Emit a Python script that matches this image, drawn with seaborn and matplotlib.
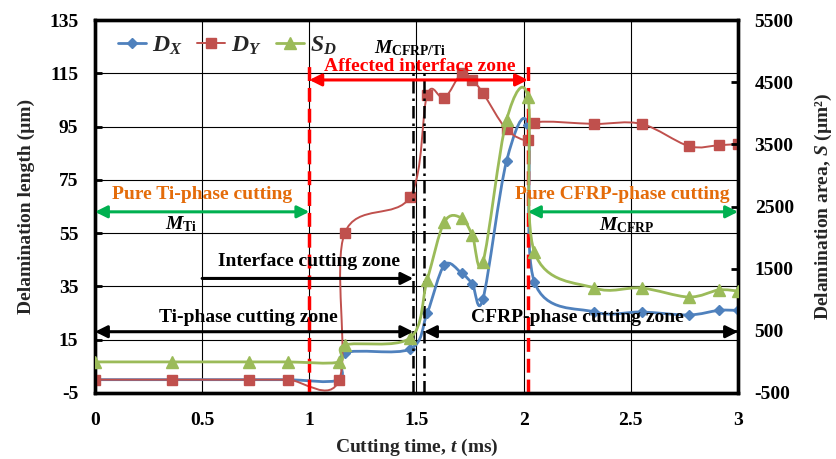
import numpy as np
import matplotlib
matplotlib.use('Agg')
import matplotlib.pyplot as plt
import seaborn as sns
from matplotlib.path import Path
from matplotlib.patches import PathPatch
from matplotlib.lines import Line2D

# ── Données ──────────────────────────────────────────────────────────
t_ms = [0, 0.36, 0.72, 0.90, 1.14, 1.165, 1.47, 1.55, 1.63, 1.71,
        1.76, 1.81, 1.92, 2.02, 2.05, 2.33, 2.55, 2.77, 2.91, 3.00]
d_x = [0, 0, 0, 0, 0, 10, 11.5, 25, 43, 40,
       36, 30.3, 82, 95.5, 36.7, 25.4, 25.4, 24.3, 26, 26]
d_y = [0, 0, 0, 0, 0, 55, 68.6, 107, 105.7, 115,
       112.5, 107.6, 94, 90, 96.5, 96, 96, 87.7, 88, 88.5]
s_d = [0, 0, 0, 0, 0, 272, 385, 1320, 2250, 2315,
       2040, 1607, 3890, 4260, 1768, 1189, 1189, 1044, 1157, 1140]

x_ticks = [0, 0.5, 1, 1.5, 2, 2.5, 3]
x_ticklabels = ['0', '0.5', '1', '1.5', '2', '2.5', '3']
left_ticks = [-5, 15, 35, 55, 75, 95, 115, 135]
right_ticks = [-500, 500, 1500, 2500, 3500, 4500, 5500]

# limites des zones
t_interface_start = 1.0
t_interface_end = 2.02
t_ti_end = 1.485
t_cfrp_start = 1.535

BLUE = '#4F81BD'
RED = '#C0504D'
GREEN = '#9BBB59'
ORANGE = '#E46C0A'
ARROW_GREEN = '#00B050'

sns.set_theme(style='white')
plt.rcParams['font.family'] = ['Liberation Serif', 'DejaVu Serif']
plt.rcParams['font.weight'] = 'bold'
plt.rcParams['axes.unicode_minus'] = False
plt.rcParams['mathtext.fontset'] = 'custom'
plt.rcParams['mathtext.rm'] = 'Liberation Serif:bold'
plt.rcParams['mathtext.bf'] = 'Liberation Serif:bold'
plt.rcParams['mathtext.it'] = 'Liberation Serif:italic:bold'
plt.rcParams['mathtext.bfit'] = 'Liberation Serif:italic:bold'


def smooth_path(x, y):
    """Courbe lissée type Excel (Bezier Catmull-Rom)."""
    pts = np.column_stack([x, y]).astype(float)
    n = len(pts)
    verts = [pts[0]]
    codes = [Path.MOVETO]
    for i in range(n - 1):
        p0 = pts[max(i - 1, 0)]
        p1, p2 = pts[i], pts[i + 1]
        p3 = pts[min(i + 2, n - 1)]
        verts += [p1 + (p2 - p0) / 6, p2 - (p3 - p1) / 6, p2]
        codes += [Path.CURVE4] * 3
    return Path(verts, codes)


fig = plt.figure(figsize=(8.36, 4.59), dpi=100)
ax = fig.add_axes([0.1136, 0.1438, 0.7692, 0.8126])
ax2 = ax.twinx()

# courbes D_X, D_Y (axe gauche), S_D (axe droit)
ax.add_patch(PathPatch(smooth_path(t_ms, d_x), fill=False, edgecolor=BLUE, lw=2.0, zorder=3))
ax.plot(t_ms, d_x, ls='none', marker='D', ms=5.5, color=BLUE, zorder=3)
ax.add_patch(PathPatch(smooth_path(t_ms, d_y), fill=False, edgecolor=RED, lw=1.4, zorder=4))
ax.plot(t_ms, d_y, ls='none', marker='s', ms=6.5, color=RED, zorder=4)
ax2.add_patch(PathPatch(smooth_path(t_ms, s_d), fill=False, edgecolor=GREEN, lw=2.0, zorder=3))
ax2.plot(t_ms, s_d, ls='none', marker='^', ms=8, color=GREEN, zorder=3)

# axes
ax.set_xlim(0, 3)
ax.set_ylim(-5, 135)
ax2.set_ylim(-500, 5500)
ax.set_xticks(x_ticks)
ax.set_xticklabels(x_ticklabels)
ax.set_yticks(left_ticks)
ax2.set_yticks(right_ticks)
ax.grid(True, color='black', lw=0.8)
ax.set_axisbelow(True)
for a in (ax, ax2):
    for sp in a.spines.values():
        sp.set_color('black')
        sp.set_linewidth(2.4)
ax.tick_params(axis='both', direction='in', length=5, width=2, labelsize=14, colors='black')
ax.tick_params(axis='y', pad=12)
ax.tick_params(axis='x', pad=14)
ax2.tick_params(axis='y', direction='in', length=5, width=2, labelsize=14, pad=12, colors='black')

ax.set_xlabel('Cutting time, $\\mathit{t}$ (ms)', fontsize=14, fontweight='bold', labelpad=5)
ax.set_ylabel('Delamination length (µm)', fontsize=14, fontweight='bold', labelpad=10)
ax2.set_ylabel('Delamination area, $\\mathit{S}$ (µm²)', fontsize=14, fontweight='bold', labelpad=14)

# lignes verticales des zones
ax.vlines([t_interface_start, t_interface_end], -5, 119, colors='red', lw=2.5,
          linestyles=(0, (4, 2)), zorder=5)
ax.vlines([t_ti_end, t_cfrp_start], -5, 118, colors='black', lw=1.8,
          linestyles=(0, (5, 2, 1, 2)), zorder=5)

tr = ax.transData


def arrow(x0, x1, y, style, color):
    ax2.annotate('', xy=(x1, y), xytext=(x0, y), xycoords=tr, textcoords=tr,
                 arrowprops=dict(arrowstyle=style, color=color, lw=2.2,
                                 mutation_scale=18, shrinkA=0, shrinkB=0),
                 zorder=6)


def label(x, y, s, color='black', size=14):
    ax2.text(x, y, s, transform=tr, ha='center', va='center', color=color,
             fontsize=size, fontweight='bold', zorder=7)


arrow(t_interface_start, t_interface_end, 112.5, '<|-|>', 'red')
label(1.517, 117.5, 'Affected interface zone', color='red')
label(1.47, 124.5, '$\\mathit{M}_{\\mathbf{CFRP/Ti}}$')

arrow(0, t_interface_start, 63, '<|-|>', ARROW_GREEN)
label(0.5, 69.5, 'Pure Ti-phase cutting', color=ORANGE)
label(0.4, 58.5, '$\\mathit{M}_{\\mathbf{Ti}}$')

arrow(t_interface_end, 3.0, 63, '<|-|>', ARROW_GREEN)
label(2.46, 69.5, 'Pure CFRP-phase cutting', color=ORANGE)
label(2.48, 58, '$\\mathit{M}_{\\mathbf{CFRP}}$')

arrow(0.5, t_ti_end, 38, '-|>', 'black')
label(1.0, 44.2, 'Interface cutting zone')

arrow(0, t_ti_end, 18, '<|-|>', 'black')
label(0.714, 23.5, 'Ti-phase cutting zone')

arrow(t_cfrp_start, 3.0, 18, '<|-|>', 'black')
label(2.25, 23.5, 'CFRP-phase cutting zone')

# légende
handles = [Line2D([], [], color=BLUE, lw=2, marker='D', ms=5.5),
           Line2D([], [], color=RED, lw=1.4, marker='s', ms=6.5),
           Line2D([], [], color=GREEN, lw=2, marker='^', ms=8)]
labels = ['$\\mathit{D}_{\\mathit{X}}$', '$\\mathit{D}_{\\mathit{Y}}$',
          '$\\mathit{S}_{\\mathit{D}}$']
ax2.legend(handles, labels, loc='upper left', bbox_to_anchor=(0.01, 1.005), ncol=3,
           frameon=False, fontsize=17, handlelength=1.2, columnspacing=0.6,
           handletextpad=0.25, borderaxespad=0.3)

fig.savefig('out.png', dpi=100)
